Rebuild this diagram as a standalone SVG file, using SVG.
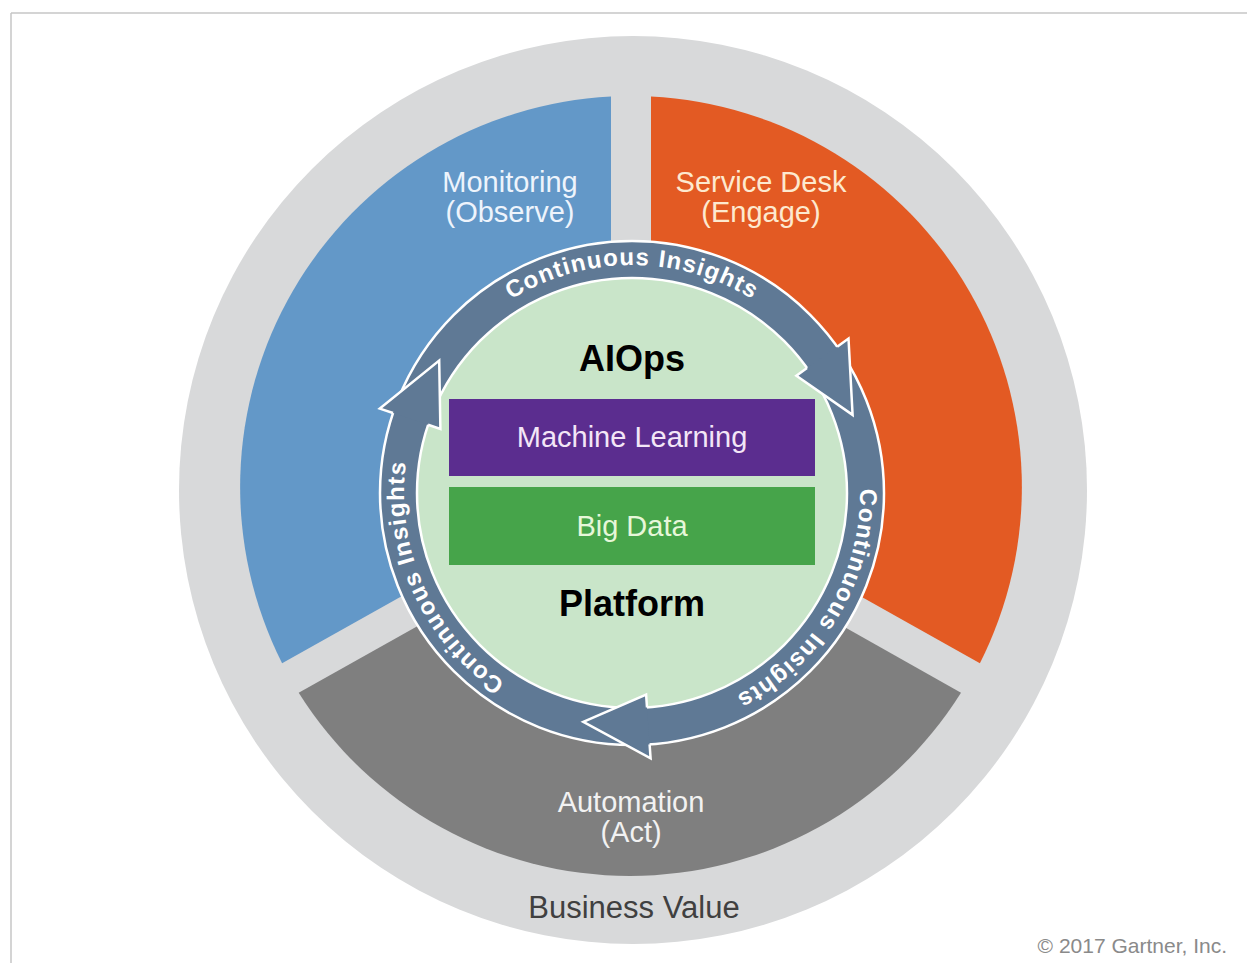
<svg xmlns="http://www.w3.org/2000/svg" width="1247" height="963" viewBox="0 0 1247 963">
  <defs>
    <style>
      .lbl { font-family: "Liberation Sans", Arial, sans-serif; text-anchor: middle; }
      .seg { font-size: 29px; }
      .core { font-size: 36px; font-weight: bold; fill: #000000; }
      .ring-txt { font-family: "Liberation Sans", Arial, sans-serif; font-size: 24px; font-weight: bold; fill: #ffffff; letter-spacing: 1.2px; text-anchor: middle; }
      .head { fill: #5f7995; }
      .head-line { fill: none; stroke: #ffffff; stroke-width: 2.5; stroke-linejoin: miter; }
    </style>
    <path id="ringPath" d="M 632 721 A 228 228 0 1 1 632 265 A 228 228 0 1 1 632 721"/>
  </defs>

  <rect x="0" y="0" width="1247" height="963" fill="#ffffff"/>
  <g id="frame" stroke="#c6c6c6" stroke-width="1.5" fill="none">
    <line x1="11" y1="13" x2="1247" y2="13"/>
    <line x1="11" y1="13" x2="11" y2="963"/>
  </g>

  <g id="business-value">
    <circle cx="633" cy="490" r="454" fill="#d8d9da"/>
    <text class="lbl" x="634" y="918" font-size="31" fill="#404040">Business Value</text>
  </g>

  <g id="monitoring">
    <path d="M 611 478.8 L 611 96.5 A 391 391 0 0 0 282.1 663.2 Z" fill="#6398c8"/>
    <text class="lbl seg" x="510" y="192" fill="#eef4fc">Monitoring</text>
    <text class="lbl seg" x="510" y="222" fill="#eef4fc">(Observe)</text>
  </g>

  <g id="service-desk">
    <path d="M 651 478.8 L 651 96.5 A 391 391 0 0 1 979.9 663.2 Z" fill="#e35a23"/>
    <text class="lbl seg" x="761" y="192" fill="#fde9cf">Service Desk</text>
    <text class="lbl seg" x="761" y="222" fill="#fde9cf">(Engage)</text>
  </g>

  <g id="automation">
    <path d="M 631 506.5 L 961 692.8 A 391 391 0 0 1 298.7 692.8 Z" fill="#7f7f7f"/>
    <text class="lbl seg" x="631" y="812" fill="#f2f2f2">Automation</text>
    <text class="lbl seg" x="631" y="842" fill="#f2f2f2">(Act)</text>
  </g>

  <g id="platform">
    <circle cx="632" cy="493" r="216" fill="#c9e5c9"/>
    <text class="lbl core" x="632" y="371">AIOps</text>
    <text class="lbl core" x="632" y="616">Platform</text>
  </g>

  <g id="connectors">
    <path d="M 380 493 A 252 252 0 1 1 884 493 A 252 252 0 1 1 380 493 Z M 417 493 A 215 215 0 1 0 847 493 A 215 215 0 1 0 417 493 Z" fill="#5f7995" fill-rule="evenodd" stroke="#ffffff" stroke-width="2.5"/>
  </g>

  <g id="machine-learning">
    <rect x="449" y="399" width="366" height="77" fill="#5b2d8f"/>
    <text class="lbl" x="632" y="447" font-size="29" fill="#f3e6f7">Machine Learning</text>
  </g>

  <g id="big-data">
    <rect x="449" y="487" width="366" height="78" fill="#46a44a"/>
    <text class="lbl" x="632" y="536" font-size="29" fill="#e6f7d9">Big Data</text>
  </g>

  <g id="arrowheads">
    <polygon class="head" points="837.2,346.7 848.5,338.5 852.6,414.9 796.4,375.7 807.0,368.1"/>
    <polyline class="head-line" points="837.2,346.7 848.5,338.5 852.6,414.9 796.4,375.7 807.0,368.1"/>
    <polygon class="head" points="649.6,744.4 650.6,758.4 583.3,721.9 646.1,694.5 647.0,707.5"/>
    <polyline class="head-line" points="649.6,744.4 650.6,758.4 583.3,721.9 646.1,694.5 647.0,707.5"/>
    <polygon class="head" points="393.0,413.0 379.8,408.6 439.2,360.5 440.4,428.9 428.1,424.8"/>
    <polyline class="head-line" points="393.0,413.0 379.8,408.6 439.2,360.5 440.4,428.9 428.1,424.8"/>
  </g>

  <g id="ring-labels">
    <text class="ring-txt"><textPath href="#ringPath" startOffset="50%">Continuous Insights</textPath></text>
    <text class="ring-txt"><textPath href="#ringPath" startOffset="83.6%">Continuous Insights</textPath></text>
    <text class="ring-txt"><textPath href="#ringPath" startOffset="18.3%">Continuous Insights</textPath></text>
  </g>

  <g id="copyright">
    <text x="1227" y="953" font-family="Liberation Sans, Arial, sans-serif" font-size="21" fill="#8a8a8a" text-anchor="end">© 2017 Gartner, Inc.</text>
  </g>
</svg>
